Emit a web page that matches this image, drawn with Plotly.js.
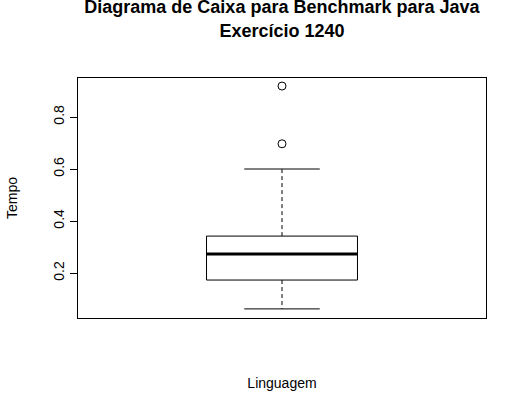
<!DOCTYPE html>
<html><head><script src="https://cdn.plot.ly/plotly-3.0.1.min.js"></script>
<style>body{margin:0}</style></head><body>
<div id="c" style="width:526px;height:416px"></div>
<script>
const q1 = 0.173, median = 0.273, q3 = 0.342;
const lowerWhisker = 0.062, upperWhisker = 0.60;
const outliers = [0.697, 0.919];
const pos = 0, boxW = 0.37, capW = boxW/4;
const blk = '#000';
const traces = [
 {type:'box', x:[pos], q1:[q1], median:[median], q3:[q3], lowerfence:[q1], upperfence:[q3],
  width:boxW, fillcolor:'rgba(0,0,0,0)', line:{color:blk,width:1}, whiskerwidth:0, boxpoints:false, hoverinfo:'skip'},
 {type:'scatter', mode:'lines', x:[pos-boxW/2,pos+boxW/2], y:[median,median], line:{color:blk,width:3}},
 {type:'scatter', mode:'lines', x:[pos,pos,null,pos,pos], y:[q3,upperWhisker,null,q1,lowerWhisker], line:{color:blk,width:1,dash:'4px,3px'}},
 {type:'scatter', mode:'lines', x:[pos-capW,pos+capW,null,pos-capW,pos+capW], y:[upperWhisker,upperWhisker,null,lowerWhisker,lowerWhisker], line:{color:blk,width:1}},
 {type:'scatter', mode:'markers', x:outliers.map(()=>pos), y:outliers, marker:{symbol:'circle-open',size:8,color:blk,line:{width:1}}}
];
const f = {family:'Liberation Sans, Arial, sans-serif', color:'#000'};
Plotly.newPlot('c', traces, {
 width:526, height:416, showlegend:false, paper_bgcolor:'#fff', plot_bgcolor:'#fff',
 margin:{l:78,r:40,t:78,b:98},
 font:Object.assign({size:14},f),
 title:{text:'<b>Diagrama de Caixa para Benchmark para Java<br>Exercício 1240</b>', x:0.536, xanchor:'center', y:0.968, yanchor:'top', font:Object.assign({size:18},f)},
 xaxis:{range:[-0.5,0.5], showticklabels:false, ticks:'', showgrid:false, zeroline:false, showline:true, mirror:true, linecolor:blk, linewidth:1,
   title:{text:'Linguagem', standoff:60, font:Object.assign({size:14},f)}},
 yaxis:{range:[0.027,0.95], tickvals:[0.2,0.4,0.6,0.8], ticktext:['0.2','0.4','0.6','0.8'], tickangle:-90, ticks:'outside', ticklen:7, tickcolor:blk,
   showgrid:false, zeroline:false, showline:true, mirror:true, linecolor:blk, linewidth:1, tickfont:Object.assign({size:14},f),
   title:{text:'Tempo', standoff:30, font:Object.assign({size:14},f)}}
}, {staticPlot:true});
</script></body></html>
